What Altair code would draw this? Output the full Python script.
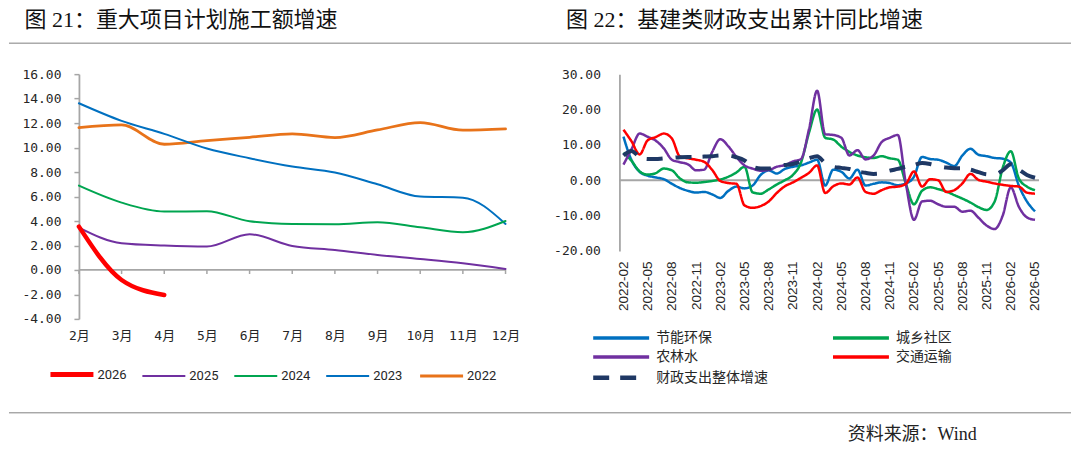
import altair as alt
import pandas as pd

MONO = "DejaVu Sans Mono, Noto Sans CJK SC"
CJK = "Noto Sans CJK SC"
SERIF_CJK = "Liberation Serif, Noto Sans CJK SC"
AXIS_GRAY = "#A6A6A6"
TEXT = "#262626"

# ---------------- left panel: 重大项目计划施工额增速 ----------------
months_left = ["2月", "3月", "4月", "5月", "6月", "7月", "8月", "9月", "10月", "11月", "12月"]
years = ["2026", "2025", "2024", "2023", "2022"]
year_colors = ["#FF0000", "#7030A0", "#00A550", "#0070C0", "#E8731A"]
v2022 = [11.63, 11.85, 10.27, 10.57, 10.84, 11.12, 10.82, 11.44, 12.04, 11.42, 11.53]
v2023 = [13.62, 12.18, 11.12, 9.92, 9.13, 8.45, 7.96, 7.00, 6.00, 5.91, 3.76]
v2024 = [6.89, 5.50, 4.77, 4.80, 3.98, 3.76, 3.73, 3.90, 3.49, 3.08, 4.00]
v2025 = [3.46, 2.18, 1.99, 1.91, 2.92, 1.96, 1.63, 1.23, 0.90, 0.54, 0.08]
v2026 = [3.54, -0.82, -2.04]
left_ticks = [-4, -2, 0, 2, 4, 6, 8, 10, 12, 14, 16]

left_series = {"2022": v2022, "2023": v2023, "2024": v2024, "2025": v2025, "2026": v2026}
left_rows = []
for name in ["2022", "2023", "2024", "2025", "2026"]:
    for i, (m, v) in enumerate(zip(months_left, left_series[name])):
        left_rows.append({"month": m, "idx": i, "year": name, "value": v})
left_df = pd.DataFrame(left_rows)
left_month_df = pd.DataFrame({"month": months_left})

# ---------------- right panel: 基建类财政支出累计同比增速 ----------------
months_right = [f"{y}-{m:02d}" for y in range(2022, 2027) for m in range(1, 13)][1:53]
series_names = ["节能环保", "城乡社区", "农林水", "交通运输", "财政支出整体增速"]
series_colors = {"节能环保": "#0070C0", "城乡社区": "#00A550", "农林水": "#7030A0",
                 "交通运输": "#FF0000", "财政支出整体增速": "#1F3864"}
# legend is filled column by column: 节能环保/农林水/整体 | 城乡社区/交通运输
legend_order = ["节能环保", "农林水", "财政支出整体增速", "城乡社区", "交通运输"]
energy = [12.3, 5.7, 2.4, 1.3, 0.8, 0.3, -1.0, -2.2, -3.0, -3.5, -3.3, -4.0, -5.0, -3.0, -1.8, -2.3,
          -1.5, 1.5, 2.8, 1.9, 3.2, 3.8, 4.2, 5.0, 5.8, -1.5, 3.0, 2.4, 0.5, 3.0, -1.5, -1.0, -0.6,
          -0.8, -1.4, -0.9, 1.0, 6.6, 6.0, 5.8, 5.0, 4.0, 7.0, 8.9, 7.2, 6.8, 6.3, 6.1, 5.0, -1.5,
          -6.0, -8.8]
urban = [7.8, 5.5, 2.5, 1.6, 2.0, 3.3, 2.8, 0.5, -0.6, -0.7, -0.5, -0.2, 0.2, 1.0, 2.2, 3.8, -3.4,
         -3.8, -2.6, -1.2, 0.0, 1.5, 5.0, 13.5, 20.0, 12.0, 11.5, 9.5, 8.0, 7.0, 6.5, 6.3, 6.8, 6.2,
         5.8, -1.0, -6.8, -3.0, -2.0, -2.5, -3.2, -4.2, -5.2, -6.3, -7.6, -8.4, -6.0, 3.5, 8.2, 0.5,
         -1.8, -2.8]
farm = [4.4, 8.8, 13.2, 12.3, 11.2, 9.0, 5.8, 5.1, 4.5, 2.8, 3.0, 8.0, 11.6, 9.6, 6.6, 4.2, 3.3, 2.7,
        2.9, 3.8, 4.3, 5.3, 6.0, 14.5, 25.3, 13.0, 12.8, 12.0, 7.0, 8.5, 5.9, 7.0, 10.8, 12.0, 12.8,
        -1.0, -11.2, -6.0, -5.8, -6.8, -7.5, -7.5, -8.9, -8.6, -10.6, -12.8, -13.8, -10.0, -2.0,
        -7.5, -10.5, -11.2]
transport = [14.3, 11.0, 7.3, 11.3, 12.2, 13.2, 11.8, 6.7, 6.2, 5.8, 5.2, 2.9, -0.2, -0.8, -1.0, -7.1,
             -7.8, -7.3, -6.0, -3.6, -1.7, -0.6, 0.7, 2.1, 4.2, -3.6, -1.7, -0.9, -1.2, 0.8, -3.3,
             -3.8, -2.8, -2.0, -1.8, -1.0, 2.5, -1.8, 0.3, 0.0, -3.3, -2.8, -0.9, 1.8, 0.1, -0.4,
             -0.9, -1.3, -1.6, -1.8, -3.5, -3.8]
total = [7.0, 8.3, 6.6, 6.0, 6.0, 6.2, 6.3, 6.5, 6.6, 6.6, 6.7, 6.8, 7.0, 7.0, 6.5, 5.6, 3.8, 3.3,
         3.3, 4.0, 4.3, 4.6, 5.3, 6.2, 6.8, 4.8, 3.8, 3.5, 3.2, 2.5, 2.1, 1.8, 2.0, 2.7, 3.2, 3.8,
         4.3, 4.9, 4.6, 4.0, 3.6, 3.4, 3.4, 3.0, 2.3, 1.7, 1.6, 2.8, 4.5, 3.0, 1.5, 0.7]
right_ticks = [-20, -10, 0, 10, 20, 30]

right_series = [energy, urban, farm, transport, total]
right_rows = []
for name, vals in zip(series_names, right_series):
    for i, (m, v) in enumerate(zip(months_right, vals)):
        right_rows.append({"month": m, "idx": i, "series": name, "value": v})
right_df = pd.DataFrame(right_rows)

deco = pd.DataFrame({"k": [0]})

W1, H1 = 427, 245
W2, H2 = 420, 177
label_fmt = "replace(format(datum.value, '.2f'), '\u2212', '-')"

# ---------------- left chart ----------------
xl = alt.X("month:N", sort=months_left,
           scale=alt.Scale(type="point", domain=months_left, padding=0),
           axis=alt.Axis(title=None, domain=False, ticks=False, tickSize=0, labelAngle=0,
                         labelPadding=11, labelFont=MONO, labelFontSize=13, labelColor=TEXT,
                         labelOverlap=False))
yl_scale = alt.Scale(domain=[-4, 16], nice=False, zero=False)
yl_axis = alt.Axis(title=None, values=left_ticks, grid=False, domainColor=AXIS_GRAY,
                   domainWidth=1.8, tickColor=AXIS_GRAY, tickWidth=1.5, tickSize=5,
                   labelPadding=13, labelExpr=label_fmt, labelFont=MONO,
                   labelFontSize=13, labelColor=TEXT, labelOverlap=False)
yl = alt.Y("value:Q", scale=yl_scale, axis=yl_axis)

left_legend = alt.Legend(title=None, orient="none", legendX=-28.5, legendY=294,
                         direction="horizontal", symbolType="stroke", symbolSize=1849,
                         symbolOffset=15, labelOffset=19,
                         symbolStrokeWidth={"expr": "datum.value === '2026' ? 5 : (datum.value === '2022' ? 3 : 2)"},
                         labelFont="Roboto", labelFontSize=13, labelColor=TEXT,
                         columnPadding=11, padding=0)

left_lines = alt.Chart(left_df).mark_line(interpolate="monotone", strokeCap="round",
                                          strokeJoin="round").encode(
    x=xl, y=yl,
    color=alt.Color("year:N", scale=alt.Scale(domain=years, range=year_colors), legend=left_legend),
    strokeWidth={"condition": [{"test": "datum.year === '2026'", "value": 4.5},
                               {"test": "datum.year === '2022'", "value": 2.8}], "value": 2},
    order=alt.Order("idx:Q"))
left_zero = alt.Chart(deco).mark_rule(color=AXIS_GRAY, strokeWidth=1.8).encode(
    x=alt.value(0), x2=alt.value(W1), y=alt.YDatum(0, scale=yl_scale, axis=yl_axis))
left_zero_ticks = alt.Chart(left_month_df).mark_rule(color=AXIS_GRAY, strokeWidth=1.5).encode(
    x=xl, y=alt.YDatum(0, scale=yl_scale, axis=yl_axis), y2=alt.datum(-0.33))

# decorations: titles, separators, source
pin = alt.Chart(deco).mark_rule(color="white", strokeWidth=1).encode(
    x=alt.value(-70), x2=alt.value(-60), y=alt.value(-65.5))
top_line = alt.Chart(deco).mark_rule(color="#7F7F7F", strokeWidth=1).encode(
    x=alt.value(-70), x2=alt.value(993), y=alt.value(-31))
bottom_line = alt.Chart(deco).mark_rule(color="#7F7F7F", strokeWidth=1).encode(
    x=alt.value(-70), x2=alt.value(993), y=alt.value(339))
title_left = alt.Chart(deco).mark_text(align="left", baseline="middle", font=SERIF_CJK,
                                       fontSize=22, color="#111111").encode(
    x=alt.value(-54.5), y=alt.value(-54), text=alt.value("图 21：重大项目计划施工额增速"))
title_right = alt.Chart(deco).mark_text(align="left", baseline="middle", font=SERIF_CJK,
                                        fontSize=22, color="#111111").encode(
    x=alt.value(487.5), y=alt.value(-54), text=alt.value("图 22：基建类财政支出累计同比增速"))
source = alt.Chart(deco).mark_text(align="left", baseline="middle", font=SERIF_CJK,
                                   fontSize=18, color="#222222").encode(
    x=alt.value(769.5), y=alt.value(361), text=alt.value("资料来源：Wind"))

left = alt.layer(left_zero, left_zero_ticks, left_lines, pin, top_line, bottom_line,
                 title_left, title_right, source).properties(width=W1, height=H1)

# ---------------- right chart ----------------
xr = alt.X("month:N", sort=months_right,
           scale=alt.Scale(type="point", domain=months_right, padding=0.5),
           axis=alt.Axis(title=None, values=months_right[::3], domain=False, ticks=False,
                         tickSize=0, labelAngle=-90, labelPadding=10, labelFont="Liberation Sans",
                         labelFontSize=13.5, labelColor=TEXT, labelOverlap=False))
yr_scale = alt.Scale(domain=[-20, 30], nice=False, zero=False)
yr_axis = alt.Axis(title=None, values=right_ticks, grid=False, domainColor=AXIS_GRAY,
                   domainWidth=1.8, ticks=False, tickSize=0, labelPadding=19,
                   labelExpr=label_fmt, labelFont=MONO, labelFontSize=13, labelColor=TEXT,
                   labelOverlap=False)
yr = alt.Y("value:Q", scale=yr_scale, axis=yr_axis)

right_legend = alt.Legend(title=None, orient="none", legendX=-26, legendY=257, columns=2,
                          symbolType="stroke", symbolSize=3136,
                          symbolOffset=20.75, labelOffset=28,
                          symbolStrokeWidth={"expr": "datum.value === '财政支出整体增速' ? 4.5 : 3.5"},
                          labelFont=CJK, labelFontSize=14, labelColor=TEXT,
                          columnPadding=57, rowPadding=5, padding=0)
dash_map = {"财政支出整体增速": [16, 11, 16, 13]}
legend_colors = [series_colors[s] for s in legend_order]
legend_dashes = [dash_map.get(s, [1, 0]) for s in legend_order]

right_lines = alt.Chart(right_df).mark_line(interpolate="monotone", strokeJoin="round").encode(
    x=xr, y=yr,
    color=alt.Color("series:N", scale=alt.Scale(domain=legend_order, range=legend_colors),
                    legend=right_legend),
    strokeDash=alt.StrokeDash("series:N", scale=alt.Scale(domain=legend_order, range=legend_dashes),
                              legend=right_legend),
    strokeWidth={"condition": {"test": "datum.series === '财政支出整体增速'", "value": 4}, "value": 2.5},
    order=alt.Order("idx:Q"))
right_zero = alt.Chart(deco).mark_rule(color=AXIS_GRAY, strokeWidth=1.8).encode(
    x=alt.value(0), x2=alt.value(W2), y=alt.YDatum(0, scale=yr_scale, axis=yr_axis))

right = alt.layer(right_zero, right_lines).properties(width=W2, height=H2)

chart = alt.hconcat(left, right, spacing=114, bounds="flush").resolve_scale(
    color="independent", strokeDash="independent", x="independent", y="independent"
).resolve_legend(
    color="independent", strokeDash="independent"
).properties(
    padding=0, background="white"
).configure_view(strokeWidth=0).configure_axis(labelOverlap=False)

chart.save("out.html", embed_options={"renderer": "svg", "actions": False})
